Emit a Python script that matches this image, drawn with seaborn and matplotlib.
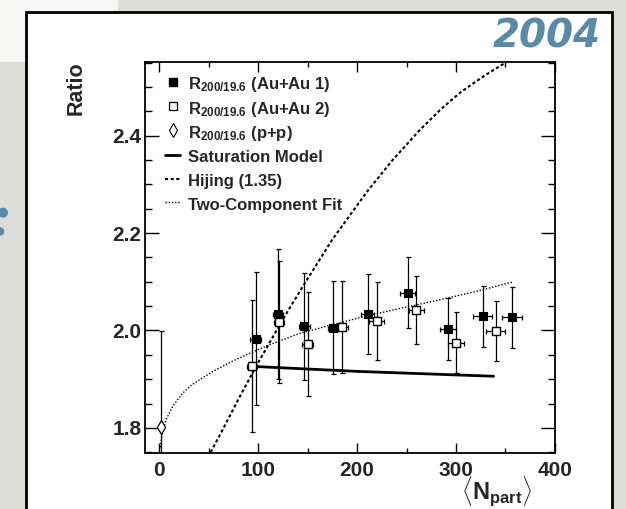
import matplotlib
matplotlib.use("Agg")
import matplotlib.pyplot as plt
from matplotlib.lines import Line2D
from matplotlib.patches import Rectangle, Circle
from matplotlib.ticker import MultipleLocator, FixedLocator
from matplotlib.transforms import IdentityTransform
import pandas as pd
import seaborn as sns

# ---- measured ratios, Au+Au set 1 (filled squares)
npart_1 = [97.5, 120, 146.5, 176, 210.5, 251, 292, 327, 357]
ratio_1 = [1.983, 2.034, 2.009, 2.006, 2.034, 2.078, 2.003, 2.029, 2.027]
yerr_1 = [0.137, 0.133, 0.110, 0.095, 0.082, 0.073, 0.063, 0.062, 0.063]
xerr_1 = [5.4, 5.1, 5.7, 5.5, 6.8, 7.6, 8.1, 9.8, 10.1]

# ---- measured ratios, Au+Au set 2 (open squares)
npart_2 = [94, 121, 150, 185, 220, 260, 300, 340]
ratio_2 = [1.927, 2.018, 1.972, 2.007, 2.020, 2.042, 1.975, 1.999]
yerr_2 = [0.135, 0.125, 0.107, 0.094, 0.080, 0.070, 0.062, 0.062]
xerr_2 = [5.0, 5.0, 5.4, 5.6, 7.6, 7.4, 8.1, 9.8]

# ---- p+p reference
npart_pp = [1.5]
ratio_pp = [1.801]
yerr_pp = [0.197]

# ---- model curves
sat_x = [97, 200, 338]
sat_y = [1.926, 1.916, 1.906]
hij_x = [52, 65, 80, 98, 114, 130, 148, 175, 210, 235, 263, 285, 305, 330, 350]
hij_y = [1.75, 1.80, 1.859, 1.927, 1.984, 2.040, 2.100, 2.187, 2.285, 2.348, 2.411,
         2.455, 2.490, 2.525, 2.550]
fit_x = [1, 3, 7, 14, 24, 32, 40, 55, 75, 108, 142, 175, 210, 245, 277, 320, 358]
fit_y = [1.76, 1.79, 1.818, 1.846, 1.872, 1.887, 1.898, 1.917, 1.938, 1.968, 1.994,
         2.012, 2.030, 2.046, 2.060, 2.080, 2.100]

x_ticks = [0, 100, 200, 300, 400]
y_ticks = [1.8, 2.0, 2.2, 2.4]
y_tick_labels = ["1.8", "2.0", "2.2", "2.4"]

legend_labels = [
    r"R$_{200/19.6}$ (Au+Au 1)",
    r"R$_{200/19.6}$ (Au+Au 2)",
    r"R$_{200/19.6}$ (p+p)",
    "Saturation Model",
    "Hijing (1.35)",
    "Two-Component Fit",
]

sns.set_style("ticks")
plt.rcParams["font.family"] = ["Liberation Sans", "DejaVu Sans"]
plt.rcParams["font.weight"] = "bold"
plt.rcParams["axes.labelweight"] = "bold"
plt.rcParams["mathtext.fontset"] = "custom"
for key in ("rm", "it", "bf", "sf"):
    plt.rcParams[f"mathtext.{key}"] = "Liberation Sans:bold"

W, H = 626, 509
fig = plt.figure(figsize=(W / 100, H / 100), dpi=100)
fig.patch.set_facecolor("#dcddd9")

# slide backdrop: pale corner, white panel with black frame, stray blue dots
fig.add_artist(Rectangle((0, 1 - 62 / H), 118 / W, 62 / H, transform=fig.transFigure,
                         facecolor="#f6f6f4", edgecolor="none", zorder=-3))
fig.add_artist(Rectangle((26 / W, -0.05), (612 - 26) / W, 1.05 - 12 / H,
                         transform=fig.transFigure, facecolor="white",
                         edgecolor="black", linewidth=2.0, zorder=-2))
for cx, cy, r in [(3, 212.7, 5.0), (0, 231.5, 4.2)]:
    fig.add_artist(Circle((cx, H - cy), r, transform=IdentityTransform(),
                          facecolor="#5b89a8", edgecolor="none", zorder=-1))
fig.text(601 / W, 1 - 48 / H, "2004", ha="right", va="baseline", color="#5b89a8",
         fontsize=28, family="DejaVu Sans", style="oblique", weight="bold")

ax = fig.add_axes([144.5 / W, 1 - 452.7 / H, (554.9 - 144.5) / W, (452.7 - 61.7) / H])
ax.set_facecolor("white")

df1 = pd.DataFrame({"npart": npart_1, "ratio": ratio_1})
df2 = pd.DataFrame({"npart": npart_2, "ratio": ratio_2})
dfpp = pd.DataFrame({"npart": npart_pp, "ratio": ratio_pp})

# model curves
sns.lineplot(x=sat_x, y=sat_y, ax=ax, color="black", lw=2.0, sort=False, estimator=None)
sns.lineplot(x=hij_x, y=hij_y, ax=ax, color="black", lw=1.5, sort=False, estimator=None,
             linestyle=(0, (1.5, 1.2)))
sns.lineplot(x=fit_x, y=fit_y, ax=ax, color="black", lw=1.0, sort=False, estimator=None,
             linestyle=(0, (1, 1.3)))

# error bars
err_kw = dict(fmt="none", ecolor="black", elinewidth=0.9, capsize=1.8, capthick=0.9, zorder=3)
ax.errorbar(npart_1, ratio_1, yerr=yerr_1, xerr=xerr_1, **err_kw)
ax.errorbar(npart_2, ratio_2, yerr=yerr_2, xerr=xerr_2, **err_kw)
ax.errorbar(npart_pp, ratio_pp, yerr=yerr_pp, **err_kw)

# data markers
sns.scatterplot(data=df1, x="npart", y="ratio", ax=ax, marker="s", s=26,
                color="black", edgecolor="black", linewidth=0.8, zorder=5)
sns.scatterplot(data=df2, x="npart", y="ratio", ax=ax, marker="s", s=26,
                color="white", edgecolor="black", linewidth=1.0, zorder=5)
sns.scatterplot(data=dfpp, x="npart", y="ratio", ax=ax, marker="d", s=50,
                color="white", edgecolor="black", linewidth=0.9, zorder=5)

ax.set_xlim(-15, 400)
ax.set_ylim(1.749, 2.552)
ax.xaxis.set_major_locator(FixedLocator(x_ticks))
ax.xaxis.set_minor_locator(MultipleLocator(50))
ax.yaxis.set_major_locator(FixedLocator(y_ticks))
ax.yaxis.set_minor_locator(MultipleLocator(0.05))
ax.set_yticklabels(y_tick_labels)
ax.tick_params(axis="both", which="both", direction="in", top=True, right=True,
               color="black", width=1.0, labelsize=15)
ax.tick_params(axis="x", which="major", length=7.5, pad=6)
ax.tick_params(axis="x", which="minor", length=3.7)
ax.tick_params(axis="y", which="major", length=10, pad=2)
ax.tick_params(axis="y", which="minor", length=5)
for sp in ax.spines.values():
    sp.set_visible(True)
    sp.set_color("black")
    sp.set_linewidth(1.3)

ax.set_ylabel("Ratio", fontsize=15.5, fontweight="bold", loc="top")
ax.yaxis.set_label_coords(-0.142, 1.0)
ax.set_xlabel(r"$\langle\mathbf{N}_{\mathbf{part}}\rangle$", fontsize=17, loc="right")
ax.xaxis.set_label_coords(0.944, -0.057)

handles = [
    Line2D([], [], marker="s", color="black", ls="none", ms=5.5),
    Line2D([], [], marker="s", mfc="white", mec="black", ls="none", ms=6, mew=0.9),
    Line2D([], [], marker="d", mfc="white", mec="black", ls="none", ms=7, mew=0.8),
    Line2D([], [], color="black", lw=2.0),
    Line2D([], [], color="black", lw=1.5, ls=(0, (1.5, 1.2))),
    Line2D([], [], color="black", lw=1.0, ls=(0, (1, 1.3))),
]
ax.legend(handles, legend_labels, loc="upper left", bbox_to_anchor=(0.05, 0.969),
          frameon=False, fontsize=12, handlelength=0.9, handleheight=1.45,
          handletextpad=0.45, labelspacing=0.24, borderpad=0, borderaxespad=0)

fig.savefig("out.png", dpi=100, facecolor=fig.get_facecolor())
